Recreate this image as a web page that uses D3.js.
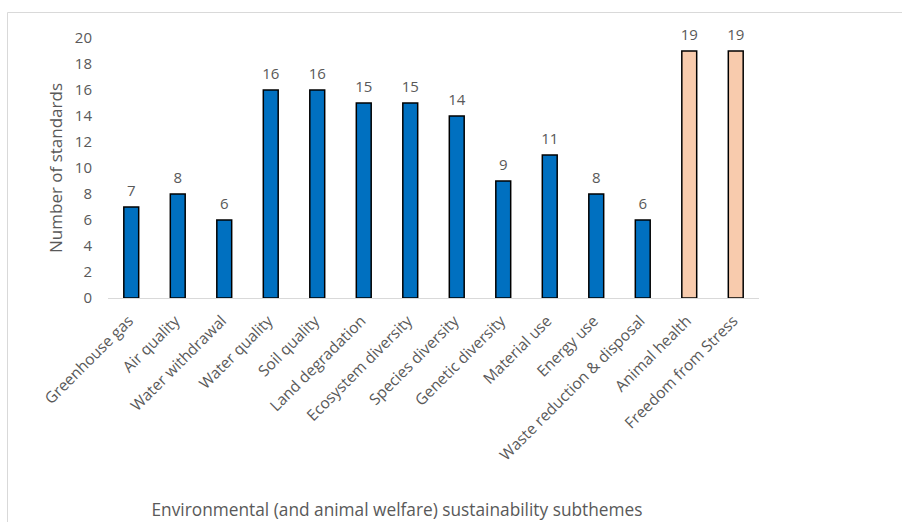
<!DOCTYPE html>
<html>
<head>
<meta charset="utf-8">
<script src="https://cdn.jsdelivr.net/npm/d3@7"></script>
<style>
  html, body { margin: 0; padding: 0; background: #fff; }
  svg { display: block; }
  text { font-family: "Open Sans", sans-serif; fill: #595959; }
</style>
</head>
<body>
<svg id="chart" width="902" height="522"></svg>
<script>
// Number of standards per sustainability subtheme
const categories = [
  "Greenhouse gas", "Air quality", "Water withdrawal", "Water quality",
  "Soil quality", "Land degradation", "Ecosystem diversity", "Species diversity",
  "Genetic diversity", "Material use", "Energy use", "Waste reduction & disposal",
  "Animal health", "Freedom from Stress"
];
const values = [7, 8, 6, 16, 16, 15, 15, 14, 9, 11, 8, 6, 19, 19];
// Environmental subthemes vs. animal welfare subthemes
const groups = ["env", "env", "env", "env", "env", "env", "env", "env", "env", "env", "env", "env", "animal", "animal"];
const yTicks = [0, 2, 4, 6, 8, 10, 12, 14, 16, 18, 20];

const colors = { env: "#0070C0", animal: "#F8CBAD" };
const FONT = "'Open Sans', sans-serif";

const svg = d3.select("#chart");
const W = 902, H = 522;
const margin = { left: 108, right: 143, top: 38, bottom: 224 };

// chart frame (top and left edges visible)
svg.append("line").attr("x1", 7.5).attr("x2", W).attr("y1", 12.5).attr("y2", 12.5)
  .attr("stroke", "#d9d9d9").attr("stroke-width", 1);
svg.append("line").attr("x1", 7.5).attr("x2", 7.5).attr("y1", 12.5).attr("y2", H)
  .attr("stroke", "#d9d9d9").attr("stroke-width", 1);

const x = d3.scaleBand().domain(categories)
  .range([margin.left, W - margin.right]).paddingInner(0.68).paddingOuter(0.34);
const y = d3.scaleLinear().domain([0, 20]).range([H - margin.bottom, margin.top]);

// y axis labels (no axis line)
const yAxis = d3.axisLeft(y).tickValues(yTicks).tickSize(0).tickPadding(0);
const gy = svg.append("g").attr("transform", `translate(${margin.left - 16},0)`).call(yAxis);
gy.select(".domain").remove();
gy.selectAll("text").attr("font-size", 15).attr("font-family", FONT).style("fill", "#595959");

// bars
svg.append("g").selectAll("rect").data(values).join("rect")
  .attr("x", (d, i) => x(categories[i]))
  .attr("y", d => y(d))
  .attr("width", x.bandwidth())
  .attr("height", d => y(0) - y(d))
  .attr("fill", (d, i) => colors[groups[i]])
  .attr("stroke", "#000")
  .attr("stroke-width", 1.5);

// x axis baseline
svg.append("line").attr("x1", margin.left).attr("x2", W - margin.right)
  .attr("y1", y(0) + 0.5).attr("y2", y(0) + 0.5)
  .attr("stroke", "#d9d9d9").attr("stroke-width", 1);

// value labels
svg.append("g").selectAll("text").data(values).join("text")
  .attr("x", (d, i) => x(categories[i]) + x.bandwidth() / 2)
  .attr("y", d => y(d) - 11)
  .attr("text-anchor", "middle")
  .attr("font-size", 15)
  .text(d => d);

// category labels, rotated
svg.append("g").selectAll("text").data(categories).join("text")
  .attr("transform", d => `translate(${x(d) + x.bandwidth() / 2 + 3},${y(0) + 24}) rotate(-45)`)
  .attr("text-anchor", "end")
  .attr("font-size", 15.5)
  .text(d => d);

// axis titles
svg.append("text")
  .attr("transform", `translate(62,${(y(0) + y(20)) / 2}) rotate(-90)`)
  .attr("text-anchor", "middle")
  .attr("font-size", 17)
  .text("Number of standards");

svg.append("text")
  .attr("x", 397).attr("y", 516)
  .attr("text-anchor", "middle")
  .attr("font-size", 17.3)
  .text("Environmental (and animal welfare) sustainability subthemes");
</script>
</body>
</html>
